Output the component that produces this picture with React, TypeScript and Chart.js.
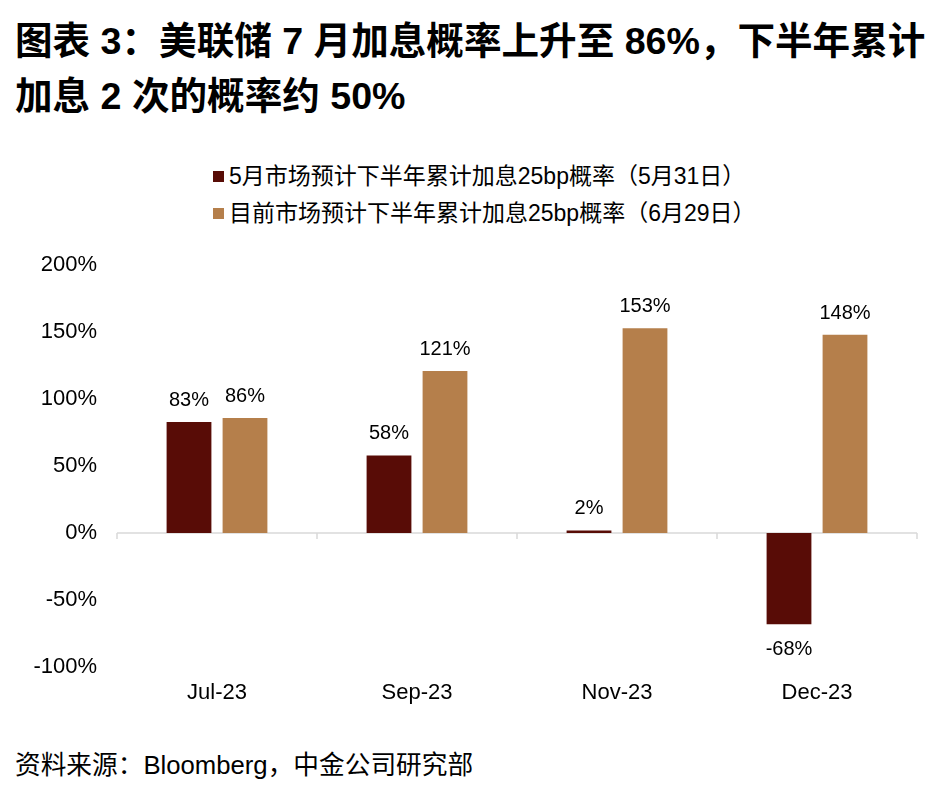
import React, { useEffect, useRef } from "react";
import { Chart, registerables } from "chart.js";

Chart.register(...registerables);

const categories = ["Jul-23", "Sep-23", "Nov-23", "Dec-23"];
const mayValues = [83, 58, 2, -68];
const juneValues = [86, 121, 153, 148];
const seriesNames = [
  "5月市场预计下半年累计加息25bp概率（5月31日）",
  "目前市场预计下半年累计加息25bp概率（6月29日）",
];
const seriesColors = ["#580c06", "#b57f4b"];
const yMin = -100;
const yMax = 200;
const yStep = 50;

const FONT = '"Liberation Sans", Arial, "Noto Sans CJK SC", sans-serif';

const zeroLinePlugin = {
  id: "zeroLine",
  beforeDatasetsDraw(chart: any) {
    const { ctx, chartArea, scales } = chart;
    const y0 = scales.y.getPixelForValue(0);
    const xs = scales.x;
    ctx.save();
    ctx.strokeStyle = "#d9d9d9";
    ctx.lineWidth = 1.5;
    ctx.beginPath();
    ctx.moveTo(chartArea.left, y0);
    ctx.lineTo(chartArea.right, y0);
    const n = categories.length;
    const bounds: number[] = [chartArea.left];
    for (let i = 1; i < n; i++) {
      bounds.push((xs.getPixelForValue(i - 1) + xs.getPixelForValue(i)) / 2);
    }
    bounds.push(chartArea.right);
    bounds.forEach((bx) => {
      ctx.moveTo(bx, y0);
      ctx.lineTo(bx, y0 + 6);
    });
    ctx.stroke();
    ctx.restore();
  },
};

const labelPlugin = {
  id: "valueLabels",
  afterDatasetsDraw(chart: any) {
    const { ctx } = chart;
    ctx.save();
    ctx.font = `20px ${FONT}`;
    ctx.fillStyle = "#000";
    ctx.textAlign = "center";
    ctx.textBaseline = "alphabetic";
    chart.data.datasets.forEach((ds: any, di: number) => {
      const meta = chart.getDatasetMeta(di);
      meta.data.forEach((el: any, i: number) => {
        const v = ds.data[i];
        const text = `${v}%`;
        if (v >= 0) ctx.fillText(text, el.x, el.y - 16);
        else ctx.fillText(text, el.x, el.y + 31);
      });
    });
    ctx.restore();
  },
};

export default function App() {
  const ref = useRef<HTMLCanvasElement>(null);
  useEffect(() => {
    if (!ref.current) return;
    const chart = new Chart(ref.current, {
      type: "bar",
      data: {
        labels: categories,
        datasets: [
          {
            label: seriesNames[0],
            data: mayValues,
            backgroundColor: seriesColors[0],
            categoryPercentage: 0.56,
            barPercentage: 0.8,
          },
          {
            label: seriesNames[1],
            data: juneValues,
            backgroundColor: seriesColors[1],
            categoryPercentage: 0.56,
            barPercentage: 0.8,
          },
        ],
      },
      options: {
        animation: false,
        responsive: false,
        maintainAspectRatio: false,
        layout: { padding: { left: 0, right: 28, top: 15, bottom: 0 } },
        plugins: {
          legend: { display: false },
          tooltip: { enabled: false },
        },
        scales: {
          x: {
            grid: { display: false, drawTicks: false },
            border: { display: false },
            ticks: {
              color: "#000",
              font: { family: FONT, size: 22 },
              padding: 13,
            },
            afterFit(scale: any) {
              scale.height = 53;
            },
          },
          y: {
            min: yMin,
            max: yMax,
            grid: { display: false, drawTicks: false },
            border: { display: false },
            ticks: {
              stepSize: yStep,
              color: "#000",
              font: { family: FONT, size: 22 },
              padding: 20,
              callback: (v: any) => `${v}%`,
            },
            afterFit(scale: any) {
              scale.width = 117;
            },
          },
        },
      },
      plugins: [zeroLinePlugin, labelPlugin],
    });
    return () => chart.destroy();
  }, []);

  return (
    <div>
      <div
        style={{
          position: "absolute",
          left: 15,
          top: 14,
          fontFamily: FONT,
          fontWeight: "bold",
          fontSize: 37.6,
          lineHeight: "55px",
          color: "#000",
          whiteSpace: "nowrap",
        }}
      >
        <div>图表 3：美联储 7 月加息概率上升至 86%，下半年累计</div>
        <div>加息 2 次的概率约 50%</div>
      </div>
      <div
        style={{
          position: "absolute",
          left: 213,
          top: 158,
          fontFamily: FONT,
          fontSize: 23,
          color: "#000",
          lineHeight: "37px",
          whiteSpace: "nowrap",
        }}
      >
        {seriesNames.map((n, i) => (
          <div key={i} style={{ display: "flex", alignItems: "center" }}>
            <span
              style={{
                display: "inline-block",
                width: 11,
                height: 11,
                background: seriesColors[i],
                marginRight: 5,
              }}
            />
            <span>{n}</span>
          </div>
        ))}
      </div>
      <canvas
        ref={ref}
        width={945}
        height={488}
        style={{ position: "absolute", left: 0, top: 232, width: 945, height: 488 }}
      />
      <div
        style={{
          position: "absolute",
          left: 15,
          top: 748,
          fontFamily: FONT,
          fontSize: 25.7,
          lineHeight: "34px",
          color: "#000",
          whiteSpace: "nowrap",
        }}
      >
        资料来源：Bloomberg，中金公司研究部
      </div>
    </div>
  );
}
